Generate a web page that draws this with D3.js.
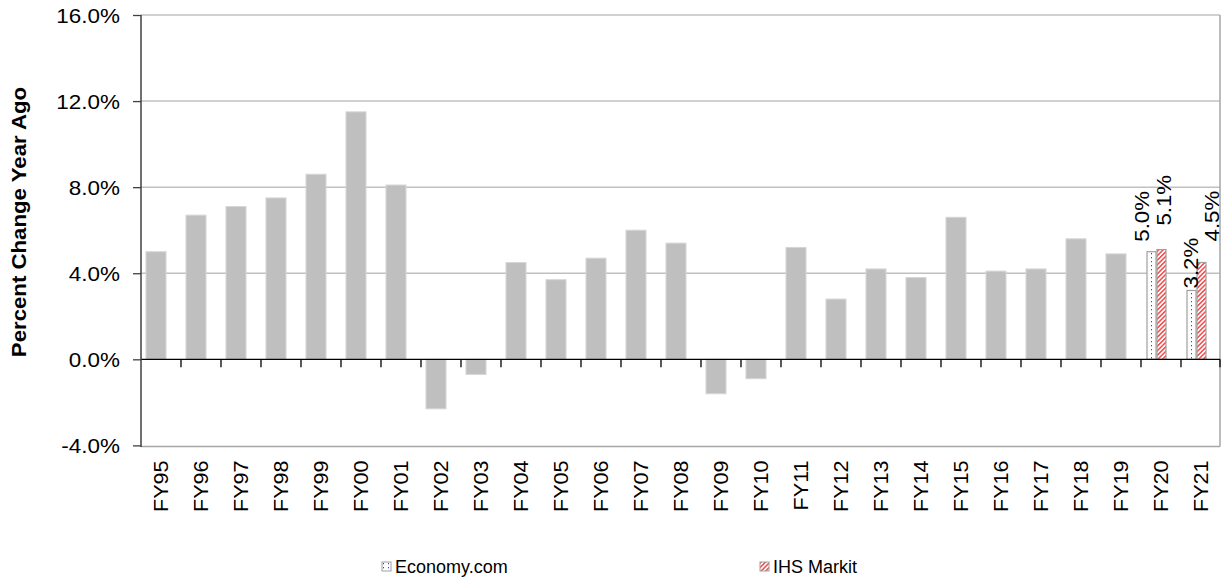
<!DOCTYPE html>
<html>
<head>
<meta charset="utf-8">
<script src="https://cdn.jsdelivr.net/npm/d3@7/dist/d3.min.js"></script>
<style>
  html, body { margin: 0; padding: 0; background: #fff; }
  svg { display: block; font-family: Arial, "Liberation Sans", sans-serif; }
</style>
</head>
<body>
<svg id="chart" width="1225" height="579"></svg>
<script>
// Fiscal years on the category axis
const years = ["FY95","FY96","FY97","FY98","FY99","FY00","FY01","FY02","FY03","FY04",
  "FY05","FY06","FY07","FY08","FY09","FY10","FY11","FY12","FY13","FY14",
  "FY15","FY16","FY17","FY18","FY19","FY20","FY21"];

// Historical growth, percent change from a year ago (FY95–FY19)
const historyYears = years.slice(0, 25);
const historyValues = [5.0, 6.7, 7.1, 7.5, 8.6, 11.5, 8.1, -2.3, -0.7, 4.5,
  3.7, 4.7, 6.0, 5.4, -1.6, -0.9, 5.2, 2.8, 4.2, 3.8,
  6.6, 4.1, 4.2, 5.6, 4.9];

// Forecasts for the two outlook years
const forecastYears = ["FY20", "FY21"];
const forecastSources = ["Economy.com", "IHS Markit"];
const economyValues = [5.0, 3.2];
const ihsValues = [5.1, 4.5];

// Value axis
const yTicks = [-4, 0, 4, 8, 12, 16];
const yTitle = "Percent Change Year Ago";

const svg = d3.select("#chart");
const plot = { left: 141, right: 1221, top: 15, bottom: 445.4 };

const x = d3.scaleBand().domain(years).range([plot.left, plot.right]);
const y = d3.scaleLinear().domain([-4, 16]).range([plot.bottom, plot.top]);

// Bars sit in the left half of each 40px slot, the forecast pair splits that width
const barOffset = x.bandwidth() * 0.125;
const barWidth = x.bandwidth() * 0.5;
const sub = d3.scaleBand().domain(forecastSources).range([barOffset + 1, barOffset + barWidth + 1]);

const fmt = d => d.toFixed(1) + "%";

// Patterns for the forecast bars
const defs = svg.append("defs");
const dots = defs.append("pattern").attr("id", "dots")
  .attr("patternUnits", "userSpaceOnUse").attr("width", 5).attr("height", 4);
dots.append("rect").attr("width", 5).attr("height", 4).attr("fill", "#fff");
dots.append("rect").attr("x", 1).attr("y", 1).attr("width", 1).attr("height", 1.3).attr("fill", "#3a3aff");

const hatch = defs.append("pattern").attr("id", "hatch")
  .attr("patternUnits", "userSpaceOnUse").attr("width", 3.2).attr("height", 3.2)
  .attr("patternTransform", "rotate(45)");
hatch.append("rect").attr("width", 3.2).attr("height", 3.2).attr("fill", "#fff");
hatch.append("rect").attr("width", 1.5).attr("height", 3.2).attr("fill", "#f04a4a");

const seriesFill = { "Economy.com": "url(#dots)", "IHS Markit": "url(#hatch)" };

// Gridlines
svg.append("g").selectAll("line")
  .data(yTicks.filter(t => t > 0))
  .join("line")
  .attr("x1", plot.left).attr("x2", plot.right - 1)
  .attr("y1", d => y(d)).attr("y2", d => y(d))
  .attr("stroke", "#c0c0c0").attr("stroke-width", 1.5);

// Plot frame on the right and bottom
svg.append("line")
  .attr("x1", plot.right - 1).attr("x2", plot.right - 1)
  .attr("y1", y(16)).attr("y2", y(-4) + 1)
  .attr("stroke", "#a6a6a6").attr("stroke-width", 1.5);
svg.append("line")
  .attr("x1", plot.left).attr("x2", plot.right - 1)
  .attr("y1", y(-4) + 1).attr("y2", y(-4) + 1)
  .attr("stroke", "#a6a6a6").attr("stroke-width", 1.5);

// Historical bars
svg.append("g").selectAll("rect")
  .data(historyValues.map((v, i) => ({ year: historyYears[i], value: v })))
  .join("rect")
  .attr("x", d => x(d.year) + barOffset)
  .attr("width", barWidth)
  .attr("y", d => y(Math.max(0, d.value)))
  .attr("height", d => Math.abs(y(d.value) - y(0)))
  .attr("fill", "#bfbfbf")
  .attr("stroke", "#d6d6d6").attr("stroke-width", 1);

// Forecast bars
const forecasts = [];
forecastYears.forEach((yr, i) => {
  forecasts.push({ year: yr, source: "Economy.com", value: economyValues[i] });
  forecasts.push({ year: yr, source: "IHS Markit", value: ihsValues[i] });
});

svg.append("g").selectAll("rect")
  .data(forecasts)
  .join("rect")
  .attr("x", d => x(d.year) + sub(d.source))
  .attr("width", sub.bandwidth() - 1)
  .attr("y", d => y(d.value))
  .attr("height", d => y(0) - y(d.value))
  .attr("fill", d => seriesFill[d.source])
  .attr("stroke", "#a0a0a0").attr("stroke-width", 1.2);

// Value labels above the forecast bars (rotated)
const labelNudge = {
  "FY20|Economy.com": { dx: -11, gap: 10 },
  "FY20|IHS Markit": { dx: 1, gap: 24 },
  "FY21|Economy.com": { dx: -2, gap: 2 },
  "FY21|IHS Markit": { dx: 9, gap: 21 }
};
svg.append("g").selectAll("text")
  .data(forecasts)
  .join("text")
  .attr("transform", d => {
    const n = labelNudge[d.year + "|" + d.source];
    const cx = x(d.year) + sub(d.source) + sub.bandwidth() / 2 + n.dx;
    return `translate(${cx},${y(d.value) - n.gap}) rotate(-90) scale(1.06,1)`;
  })
  .attr("dy", "0.36em")
  .attr("font-size", 21)
  .attr("fill", "#000")
  .text(d => fmt(d.value));

// Zero baseline with category separators
const baseG = svg.append("g");
baseG.append("line")
  .attr("x1", plot.left).attr("x2", plot.right - 1)
  .attr("y1", y(0)).attr("y2", y(0))
  .attr("stroke", "#000").attr("stroke-width", 1.3);
baseG.selectAll("line.sep")
  .data(years.slice(1).concat(["end"]))
  .join("line")
  .attr("class", "sep")
  .attr("x1", d => d === "end" ? plot.right - 1 : x(d))
  .attr("x2", d => d === "end" ? plot.right - 1 : x(d))
  .attr("y1", y(0)).attr("y2", y(0) + 8)
  .attr("stroke", "#000").attr("stroke-width", 1.3);

// Category labels
const xAxis = svg.append("g")
  .attr("transform", `translate(0,${y(-4)})`)
  .call(d3.axisBottom(x).tickSize(0).tickPadding(0));
xAxis.select(".domain").remove();
xAxis.selectAll(".tick text")
  .attr("font-size", 20)
  .attr("font-family", "Arial, 'Liberation Sans', sans-serif")
  .attr("fill", "#000")
  .attr("text-anchor", "end")
  .attr("x", 0).attr("y", 0).attr("dy", "0.36em")
  .attr("transform", "translate(0,15) rotate(-90) scale(1.08,1)");

// Value axis
const yAxis = svg.append("g")
  .attr("transform", `translate(${plot.left},0)`)
  .call(d3.axisLeft(y).tickValues(yTicks).tickSize(8).tickFormat(fmt));
yAxis.select(".domain")
  .attr("stroke", "#404040").attr("stroke-width", 1.5)
  .attr("d", `M0,${y(16)}V${y(-4) + 1.5}`);
yAxis.selectAll(".tick line").attr("stroke", "#404040").attr("stroke-width", 1.3);
yAxis.selectAll(".tick text")
  .attr("font-size", 21)
  .attr("font-family", "Arial, 'Liberation Sans', sans-serif")
  .attr("fill", "#000")
  .attr("x", 0).attr("dy", "0.36em")
  .attr("transform", "translate(-21,0) scale(1.07,1)");

// Axis title
svg.append("text")
  .attr("transform", `translate(19,222) rotate(-90) scale(1.14,1)`)
  .attr("text-anchor", "middle")
  .attr("dy", "0.36em")
  .attr("font-size", 19.5)
  .attr("font-weight", "bold")
  .attr("fill", "#000")
  .text(yTitle);

// Legend
const legendX = d3.scalePoint().domain(forecastSources).range([382, 760]);
const legend = svg.append("g").selectAll("g")
  .data(forecastSources)
  .join("g")
  .attr("transform", d => `translate(${legendX(d)},562)`);
legend.append("rect")
  .attr("width", 9).attr("height", 9)
  .attr("fill", d => seriesFill[d])
  .attr("stroke", "#a0a0a0").attr("stroke-width", 1);
legend.append("text")
  .attr("x", 13).attr("y", 5).attr("dy", "0.36em")
  .attr("font-size", 18)
  .attr("fill", "#000")
  .text(d => d);
</script>
</body>
</html>
